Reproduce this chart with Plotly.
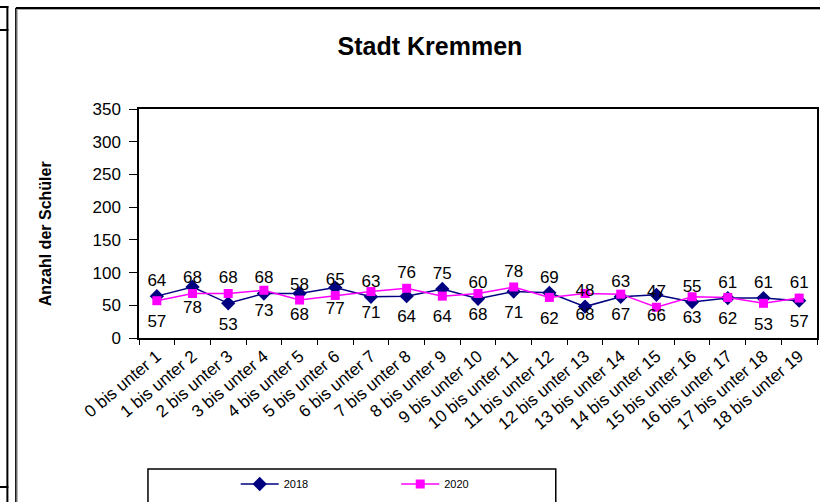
import plotly.graph_objects as go

categories = [f"{i} bis unter {i+1}" for i in range(19)]
values_2018 = [64, 78, 53, 68, 68, 77, 63, 64, 75, 60, 71, 69, 48, 63, 66, 55, 61, 61, 57]
values_2020 = [57, 68, 68, 73, 58, 65, 71, 76, 64, 68, 78, 62, 68, 67, 47, 63, 62, 53, 61]
# label placement as seen in the reference ("t" above the point, "b" below)
pos_2018 = ["t", "b", "b", "t", "b", "b", "t", "b", "t", "t", "b", "t", "t", "t", "b", "t", "t", "t", "b"]
pos_2020 = ["b" if p == "t" else "t" for p in pos_2018]

W, H = 820, 502
L, R, T, B = 139, 1, 109, 164
PW, PH = W - L - R, H - T - B

def px(x):
    return (x - L) / PW

def py(y):
    return (H - B - y) / PH

FONT = "Liberation Sans, Arial, sans-serif"
tp = {"t": "top center", "b": "bottom center"}
pad_size = {"t": 8, "b": 20}

fig = go.Figure()
fig.add_trace(go.Scatter(
    x=categories, y=values_2018, name="2018", mode="lines+markers",
    line=dict(color="#000080", width=1.5),
    marker=dict(symbol="diamond", size=11, color="#000080"),
    legend="legend", cliponaxis=False,
))
fig.add_trace(go.Scatter(
    x=categories, y=values_2020, name="2020", mode="lines+markers",
    line=dict(color="#FF00FF", width=1.5),
    marker=dict(symbol="square", size=9, color="#FF00FF"),
    legend="legend2", cliponaxis=False,
))
# data labels (invisible markers push the labels away from the points)
for vals, pos in ((values_2018, pos_2018), (values_2020, pos_2020)):
    fig.add_trace(go.Scatter(
        x=categories, y=vals, mode="text+markers", showlegend=False, hoverinfo="skip",
        marker=dict(size=[pad_size[p] for p in pos], opacity=0),
        text=[str(v) for v in vals], textposition=[tp[p] for p in pos],
        textfont=dict(family=FONT, size=17, color="black"), cliponaxis=False,
    ))

shapes = [
    # legend box
    dict(type="rect", xref="paper", yref="paper", x0=px(148), x1=px(557), y0=py(469), y1=py(506),
         line=dict(color="black", width=1.5), fillcolor="rgba(0,0,0,0)", layer="above"),
    # chart outer frame (left and top)
    dict(type="line", xref="paper", yref="paper", x0=px(15.5), x1=px(15.5), y0=py(8), y1=py(510),
         line=dict(color="black", width=1.5)),
    dict(type="line", xref="paper", yref="paper", x0=px(17), x1=px(17), y0=py(9.5), y1=py(510),
         line=dict(color="#aaaaaa", width=1)),
    dict(type="line", xref="paper", yref="paper", x0=px(15.5), x1=px(830), y0=py(8), y1=py(8),
         line=dict(color="black", width=2)),
    dict(type="line", xref="paper", yref="paper", x0=px(17), x1=px(830), y0=py(9.5), y1=py(9.5),
         line=dict(color="#aaaaaa", width=1)),
    # spreadsheet cell lines on the far left
    dict(type="line", xref="paper", yref="paper", x0=px(7), x1=px(7), y0=py(6), y1=py(510),
         line=dict(color="black", width=2)),
    dict(type="line", xref="paper", yref="paper", x0=px(-5), x1=px(8), y0=py(7), y1=py(7),
         line=dict(color="black", width=2)),
    dict(type="line", xref="paper", yref="paper", x0=px(-5), x1=px(8), y0=py(30), y1=py(30),
         line=dict(color="black", width=2)),
    dict(type="line", xref="paper", yref="paper", x0=px(-5), x1=px(8), y0=py(487), y1=py(487),
         line=dict(color="black", width=2)),
]

fig.update_layout(
    width=W, height=H,
    margin=dict(l=L, r=R, t=T, b=B, pad=0),
    paper_bgcolor="white", plot_bgcolor="white",
    font=dict(family=FONT, color="black"),
    title=dict(text="<b>Stadt Kremmen</b>", x=430 / W, xanchor="center", y=1 - 46 / H, yanchor="middle",
               font=dict(family=FONT, size=25, color="black")),
    showlegend=True,
    legend=dict(orientation="h", x=px(236), xanchor="left", y=py(484), yanchor="middle",
                font=dict(family=FONT, size=11, color="black"), bgcolor="rgba(0,0,0,0)",
                itemwidth=38),
    legend2=dict(orientation="h", x=px(397), xanchor="left", y=py(484), yanchor="middle",
                 font=dict(family=FONT, size=11, color="black"), bgcolor="rgba(0,0,0,0)",
                 itemwidth=38),
    shapes=shapes,
    annotations=[dict(text="<b>Anzahl der Schüler</b>", xref="paper", yref="paper",
                      x=px(45), y=py(234), xanchor="center", yanchor="middle", textangle=-90,
                      showarrow=False, font=dict(family=FONT, size=16, color="black"))],
)
fig.update_xaxes(
    type="category", range=[-0.5, len(categories) - 0.5],
    showline=True, linecolor="black", linewidth=1.5, mirror=True,
    ticks="outside", ticklen=5, tickcolor="black", tickson="boundaries",
    tickangle=-40, tickfont=dict(family=FONT, size=17, color="black"),
    showgrid=False, zeroline=False,
)
fig.update_yaxes(
    range=[0, 350], dtick=50, showline=True, linecolor="black", linewidth=1.5, mirror=True,
    ticks="outside", ticklen=8, tickcolor="black", ticklabelstandoff=5,
    tickfont=dict(family=FONT, size=17, color="black"),
    showgrid=False, zeroline=False,
)

fig.write_html("out.html", config={"displayModeBar": False},
               post_script="document.body.style.margin='0';document.body.style.overflow='hidden';")
